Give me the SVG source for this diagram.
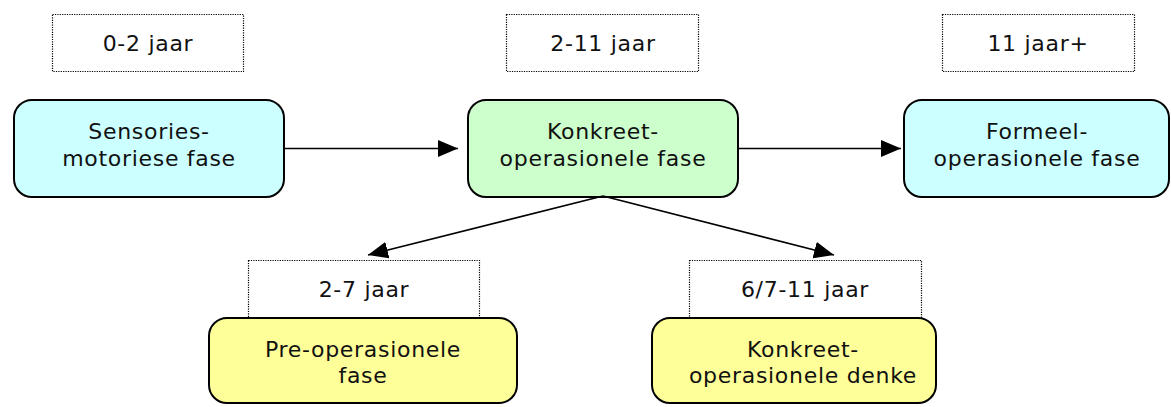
<svg xmlns="http://www.w3.org/2000/svg" width="1171" height="407" viewBox="0 0 1171 407">
<defs>
<marker id="ah" markerWidth="20" markerHeight="17" refX="20" refY="8.5" orient="auto" markerUnits="userSpaceOnUse">
<path d="M0,0 L20,8.5 L0,17 Z" fill="#000"/>
</marker>
<style>
.node{stroke:#000;stroke-width:2}
.cyan{fill:#CCFFFF}
.green{fill:#CCFFCC}
.yellow{fill:#FFFF99}
.lbl{fill:#fff;stroke:#000;stroke-width:1.2;stroke-dasharray:1.2 1.2}
text{font-family:"DejaVu Sans",sans-serif;font-size:22px;letter-spacing:0.7px;fill:#111;text-anchor:middle}
.conn{stroke:#000;stroke-width:1.6;fill:none}
</style>
</defs>
<rect width="1171" height="407" fill="#fff"/>
<g id="label-0-2">
<rect class="lbl" x="52.5" y="14.5" width="191" height="57"/>
<text x="148" y="51">0-2 jaar</text>
</g>
<g id="label-2-11">
<rect class="lbl" x="506.5" y="14.5" width="192" height="57"/>
<text x="603" y="51">2-11 jaar</text>
</g>
<g id="label-11plus">
<rect class="lbl" x="942.5" y="14.5" width="192" height="57"/>
<text x="1038" y="51">11 jaar+</text>
</g>
<g id="node-sensories">
<rect class="node cyan" x="14" y="100" width="270" height="97" rx="18"/>
<text x="149" y="139">Sensories-</text>
<text x="149" y="166">motoriese fase</text>
</g>
<g id="node-konkreet">
<rect class="node green" x="468" y="100" width="270" height="97" rx="18"/>
<text x="603" y="139">Konkreet-</text>
<text x="603" y="166">operasionele fase</text>
</g>
<g id="node-formeel">
<rect class="node cyan" x="904" y="100" width="265" height="97" rx="18"/>
<text x="1037" y="139">Formeel-</text>
<text x="1037" y="166">operasionele fase</text>
</g>
<g id="label-2-7">
<rect class="lbl" x="248.5" y="260.5" width="231" height="60"/>
<text x="364" y="297">2-7 jaar</text>
</g>
<g id="label-6-7-11">
<rect class="lbl" x="689.5" y="260.5" width="232" height="60"/>
<text x="805" y="297">6/7-11 jaar</text>
</g>
<g id="node-pre">
<rect class="node yellow" x="209" y="318" width="308" height="85" rx="18"/>
<text x="363" y="357">Pre-operasionele</text>
<text x="363" y="383">fase</text>
</g>
<g id="node-denke">
<rect class="node yellow" x="652" y="318" width="284" height="85" rx="18"/>
<text x="803" y="357">Konkreet-</text>
<text x="803" y="383">operasionele denke</text>
</g>
<g id="connectors">
<line class="conn" x1="285" y1="148.5" x2="458" y2="148.5" marker-end="url(#ah)"/>
<line class="conn" x1="739" y1="148.5" x2="901" y2="148.5" marker-end="url(#ah)"/>
<line class="conn" x1="603" y1="196" x2="368" y2="255" marker-end="url(#ah)"/>
<line class="conn" x1="603" y1="196" x2="834" y2="255" marker-end="url(#ah)"/>
</g>
</svg>
